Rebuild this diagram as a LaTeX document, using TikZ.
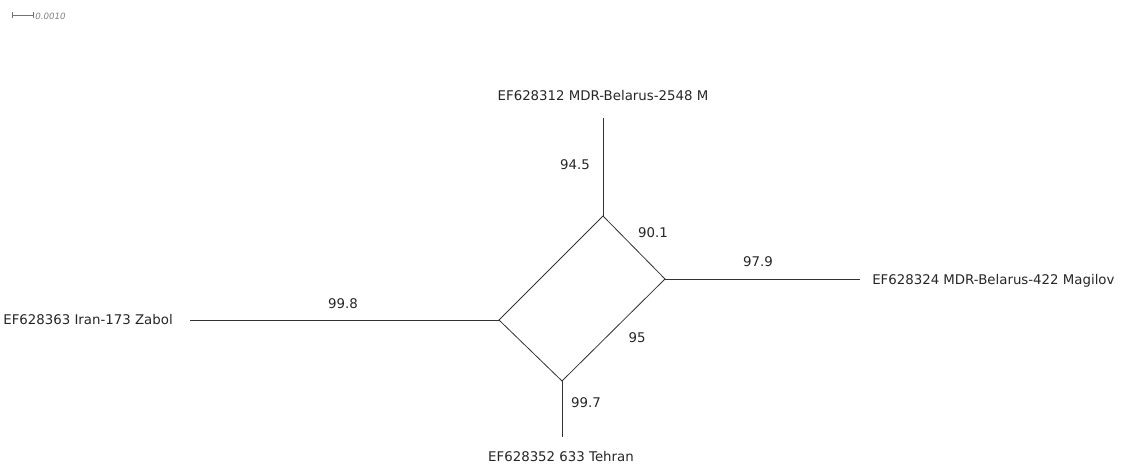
\documentclass[tikz,border=0pt]{standalone}
\usepackage{fontspec}
\setmainfont{DejaVu Sans}
\begin{document}
\begin{tikzpicture}[x=0.75pt,y=-0.75pt,
  edge/.style={draw=black!80,line width=0.6pt},
  leaf/.style={font=\fontsize{10}{12}\selectfont,text=black!85,inner sep=0pt},
  blabel/.style={font=\fontsize{10}{12}\selectfont,text=black!85,inner sep=0pt}]
\useasboundingbox (0,0) rectangle (1121,466);
% scale bar
\coordinate (s1) at (12,15);
\coordinate (s2) at (33,15);
\draw[draw=black!55,line width=0.5pt] (s1) -- (s2);
\draw[draw=black!55,line width=0.5pt] ([yshift=-2.5]s1) -- ([yshift=2.5]s1);
\draw[draw=black!55,line width=0.5pt] ([yshift=-2.5]s2) -- ([yshift=2.5]s2);
\node[anchor=west,inner sep=0pt,font=\fontsize{6.5}{8}\selectfont\itshape,text=black!50] (scale) at (35,16) {0.0010};
% internal vertices
\coordinate (T) at (603,216);
\coordinate (R) at (665,279);
\coordinate (B) at (562,381);
\coordinate (L) at (499,320);
% leaf ends
\coordinate (Te) at (603,118);
\coordinate (Re) at (860,279);
\coordinate (Be) at (562,437);
\coordinate (Le) at (190,320);
% edges
\draw[edge] (T) -- (R) -- (B) -- (L) -- cycle;
\draw[edge] (T) -- (Te);
\draw[edge] (R) -- (Re);
\draw[edge] (B) -- (Be);
\draw[edge] (L) -- (Le);
% leaf labels
\node[leaf] (nT) at (603,96) {EF628312 MDR-Belarus-2548 M};
\node[leaf,anchor=west] (nR) at (872,281) {EF628324 MDR-Belarus-422 Magilov};
\node[leaf] (nB) at (561,457) {EF628352 633 Tehran};
\node[leaf,anchor=east] (nL) at (173,320) {EF628363 Iran-173 Zabol};
% support labels
\node[blabel] (l1) at (575,165) {94.5};
\node[blabel] (l2) at (653,233) {90.1};
\node[blabel] (l3) at (758,262) {97.9};
\node[blabel] (l4) at (637,338) {95};
\node[blabel] (l5) at (343,304) {99.8};
\node[blabel] (l6) at (586,403) {99.7};
\end{tikzpicture}
\end{document}
